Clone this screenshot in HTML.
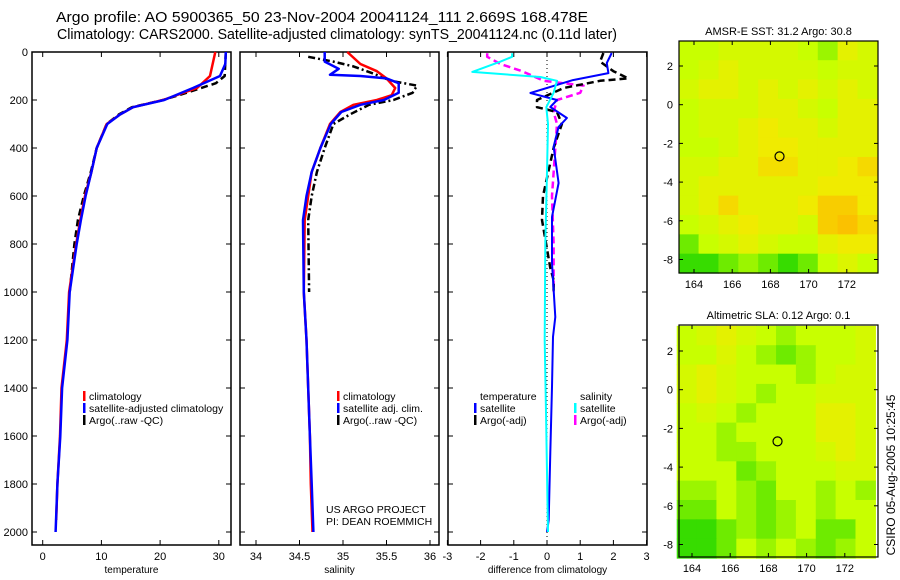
<!DOCTYPE html>
<html><head><meta charset="utf-8"><style>
body{margin:0;background:#fff}
svg{display:block;font-family:"Liberation Sans",sans-serif}
</style></head><body>
<svg id="c" width="900" height="580" viewBox="0 0 900 580">
<rect width="900" height="580" fill="#fff"/>
<text x="56" y="22" font-size="14.5" textLength="532" lengthAdjust="spacingAndGlyphs">Argo profile: AO 5900365_50 23-Nov-2004 20041124_111 2.669S 168.478E</text>
<text x="57" y="39" font-size="14.5" textLength="560" lengthAdjust="spacingAndGlyphs">Climatology: CARS2000. Satellite-adjusted climatology: synTS_20041124.nc (0.11d later)</text>
<text transform="translate(895,475) rotate(-90)" text-anchor="middle" font-size="12">CSIRO 05-Aug-2005 10:25:45</text>
</svg>
<script>
// ---- temperature panel data ----
const tClimD=[0,100,150,200,230,260,300,400,500,600,700,800,1000,1200,1400,1600,1800,1950];
const tClimV=[29.4,28.5,26.3,20.5,15.4,13.2,10.9,9.2,8.3,7.2,6.4,5.7,4.5,4.1,3.2,2.95,2.5,2.3];
const tSatD=[0,50,100,150,200,230,260,300,400,500,600,700,800,1000,1200,1400,1600,1800,2000];
const tSatV=[31.2,31.1,30.2,25.6,20.7,15.4,13.2,11.0,9.2,8.3,7.3,6.5,5.8,4.6,4.2,3.3,3.0,2.5,2.2];
const tArgD=[0,100,130,170,200,230,260,300,400,500,600,700,800,1000];
const tArgV=[31.2,31.0,29.5,24.5,20.5,15.2,13.0,10.9,9.2,8.2,7.0,6.0,5.4,4.6];
// ---- salinity panel data ----
const sClimD=[0,50,80,110,150,180,200,220,250,300,400,500,600,700,1000,1200,1400,1600,1800,2000];
const sClimV=[35.05,35.2,35.39,35.5,35.6,35.56,35.39,35.12,34.97,34.85,34.74,34.64,34.6,34.56,34.55,34.58,34.6,34.62,34.63,34.65];
const sSatD=[0,40,70,95,100,110,130,170,200,220,250,300,400,500,600,700,1000,1200,1400,1600,1800,2000];
const sSatV=[34.79,34.79,34.95,34.85,35.2,35.5,35.64,35.64,35.47,35.2,34.98,34.86,34.74,34.64,34.58,34.54,34.55,34.58,34.6,34.62,34.64,34.66];
const sArgD=[20,40,60,90,120,140,170,200,220,260,300,400,500,600,700,1000];
const sArgV=[34.6,34.89,35.12,35.35,35.55,35.85,35.8,35.58,35.3,35.08,34.89,34.79,34.7,34.64,34.6,34.61];
// ---- difference panel data ----
const dTSatD=[4,46,88,117,171,200,229,275,312,395,546,687,880,1104,1187,1395,1670,1950,2000];
const dTSatV=[1.95,1.8,1.85,0.78,-0.5,0.3,0.1,0.6,0.35,0.2,0.35,0.15,0.15,0.25,0.18,0.15,0.1,0.05,0];
const dTArgD=[4,40,80,110,120,150,200,230,250,300,400,600,700,900,950,1000];
const dTArgV=[1.7,1.6,2.0,2.45,1.6,0.5,-0.3,-0.3,0.3,0.45,0.2,-0.12,-0.15,0.1,0.2,0.2];
const dSArgD=[5,20,50,80,120,140,170,200,250,300,400,600,800,1000];
const dSArgV=[-1.8,-1.8,-1.4,-0.75,-0.1,1.1,1.0,0.3,0.2,0.3,0.25,0.15,0.2,0.2];
const dSSatD=[5,20,40,83,104,120,170,230,300,500,800,1200,1500,2000];
const dSSatV=[-1.05,-1.05,-1.4,-2.25,-0.2,0.3,0.2,-0.02,0.03,0.0,-0.05,-0.07,-0.03,0.03];
const depthTicks=[0,200,400,600,800,1000,1200,1400,1600,1800,2000];
const tTicks=[0,10,20,30], sTicks=[34,34.5,35,35.5,36], dTicks=[-3,-2,-1,0,1,2,3];
// ---- map data (rows north->south, cols west->east), colour index 0 green .. 4 orange ----
const sstGrid=[
[2,2,2.3,2.3,2.3,2.3,2,1.5,2.7,2.3],[2,2.3,2.7,2.3,2.3,2.3,2.3,2,2.3,2.3],[2.3,2.7,2.7,2.3,2.7,2.3,2.7,2.3,2.7,2.3],
[2,2.3,2.3,2.3,2.7,2.7,2.3,2,2.7,2.7],[2,2.3,2.3,2.7,3,2.7,2.7,2.3,2.7,2.7],[2,2,2.3,2.7,3,3,2.7,2.7,2.7,2.7],
[2.3,2.3,2.7,2.7,3.2,3.2,2.7,2.7,3,3.3],[2.3,2.7,2.7,2.7,2.7,2.7,2.7,3,3,3],[2.3,2.7,3.3,2.7,2.7,2.7,3,3.5,3.5,3],
[2,2.3,2.7,3,2.7,2.7,2.3,3.5,3.7,3.3],[1,2,2.3,2.7,2.3,2,2,2.7,3,3],[0.5,0.5,1,1.5,1,0.5,1,2,2.5,2]];
const slaGrid=[
[2,2.3,2.7,2.3,2,1.5,2,2,2,2.3],[2,2,2.5,2,1.5,1,1.5,2,2,2.3],[2.3,2.7,2.3,2,2,2,1.5,2,2.3,2.3],
[2.3,2.7,2.3,2,1.5,2,2,2.3,2.3,2.3],[2,2.3,2,1.5,2,2,2,2.7,2.7,2.3],[2,2,1.5,2,2,2,2,2.7,2.7,2.3],
[2,2,1.5,1.5,2,2,2,2.3,2.7,2.3],[2,2,2,1,1.5,2,2,2,2.3,2.3],[1.5,1.5,2,1.5,1,2,2,1.5,2,1.5],
[1,1,2,1.5,1,1.5,2,1.5,2,2],[0.5,0.5,1,1.5,1,1.5,2,1,1,2],[0.5,0.5,1,2,1.5,2,1.5,1,1.5,2]];
const lonTicks=[164,166,168,170,172], latTicks=[2,0,-2,-4,-6,-8];
const argoLon=168.478, argoLat=-2.669;

const NS='http://www.w3.org/2000/svg';
const svg=document.getElementById('c');
function mk(tag,attrs,parent){const e=document.createElementNS(NS,tag);for(const k in attrs)e.setAttribute(k,attrs[k]);(parent||svg).appendChild(e);return e;}
const Y=d=>52+d*0.24;
function panel(name,x0,x1,xs,ticks,fmt,xlabel,leftLabels){
  const g=mk('g',{});
  
  
  mk('rect',{x:x0,y:52,width:x1-x0,height:493,fill:'none',stroke:'#000','stroke-width':1.5},g);
  depthTicks.forEach(d=>{
    mk('line',{x1:x0,x2:x0+5,y1:Y(d),y2:Y(d),stroke:'#000'},g);
    mk('line',{x1:x1-5,x2:x1,y1:Y(d),y2:Y(d),stroke:'#000'},g);
    if(leftLabels){const t=mk('text',{x:x0-4,y:Y(d)+4,'font-size':11,'text-anchor':'end'},g);t.textContent=d;
      
      }
  });
  ticks.forEach(v=>{
    const x=xs(v);
    mk('line',{x1:x,x2:x,y1:545,y2:540,stroke:'#000'},g);
    mk('line',{x1:x,x2:x,y1:52,y2:57,stroke:'#000'},g);
    const t=mk('text',{x:x,y:560,'font-size':11,'text-anchor':'middle'},g);t.textContent=fmt(v);
    
    
  });
  const l=mk('text',{x:(x0+x1)/2,y:573,'font-size':10,'text-anchor':'middle'},g);l.textContent=xlabel;
  
  
  return g;
}
function series(g,name,D,V,xs,color,dash,w){
  const p=D.map((d,i)=>xs(V[i]).toFixed(1)+','+Y(d).toFixed(1)).join(' ');
  const e=mk('polyline',{points:p,fill:'none',stroke:color,'stroke-width':w||2.5,'stroke-dasharray':dash||'none','stroke-linejoin':'round'},g);
  
  
}
function legend(g,x,y,items){
  items.forEach((it,i)=>{
    const yy=y+i*12;
    if(it.c){const m=mk('rect',{x:x,y:yy-9,width:2.5,height:10,fill:it.c},g);
      
      }
    const t=mk('text',{x:x+6,y:yy,'font-size':10.5},g);t.textContent=it.t;
    
    
  });
}
// temperature
const xT=v=>42.7+v*5.87;
let g=panel('temperature-panel',32,231,xT,tTicks,v=>v,'temperature',true);
series(g,'argo-temperature-line',tArgD,tArgV,xT,'#000','7,4');
series(g,'climatology-temperature-line',tClimD,tClimV,xT,'#f00');
series(g,'satellite-temperature-line',tSatD,tSatV,xT,'#00f');
legend(g,83,400,[{c:'#f00',t:'climatology'},{c:'#00f',t:'satellite-adjusted climatology'},{c:'#000',t:'Argo(..raw -QC)'}]);
// salinity
const xS=v=>256+(v-34)*87;
g=panel('salinity-panel',240,439,xS,sTicks,v=>v,'salinity',false);
series(g,'argo-salinity-line',sArgD,sArgV,xS,'#000','7,3,2,3');
series(g,'climatology-salinity-line',sClimD,sClimV,xS,'#f00');
series(g,'satellite-salinity-line',sSatD,sSatV,xS,'#00f');
legend(g,337,400,[{c:'#f00',t:'climatology'},{c:'#00f',t:'satellite adj. clim.'},{c:'#000',t:'Argo(..raw -QC)'}]);
legend(g,320,513,[{t:'US ARGO PROJECT'},{t:'PI: DEAN ROEMMICH'}]);
// difference
const xD=v=>547+v*33.2;
g=panel('difference-panel',448,647,xD,dTicks,v=>v,'difference from climatology',false);
mk('line',{x1:xD(0),x2:xD(0),y1:52,y2:545,stroke:'#000','stroke-dasharray':'1,3'},g);
series(g,'salinity-argo-diff-line',dSArgD,dSArgV,xD,'#f0f','7,4');
series(g,'temperature-argo-diff-line',dTArgD,dTArgV,xD,'#000','7,4');
series(g,'temperature-satellite-diff-line',dTSatD,dTSatV,xD,'#00f',null,2);
series(g,'salinity-satellite-diff-line',dSSatD,dSSatV,xD,'#0ff',null,2);
legend(g,474,400,[{t:'temperature'},{c:'#00f',t:'satellite'},{c:'#000',t:'Argo(-adj)'}]);
legend(g,574,400,[{t:'salinity'},{c:'#0ff',t:'satellite'},{c:'#f0f',t:'Argo(-adj)'}]);
// maps
const stops=[[0,205,0],[110,235,0],[200,255,0],[240,235,0],[255,175,0]];
function col(v){const i=Math.min(3,Math.floor(v)),f=v-i,a=stops[i],b=stops[i+1];
  return 'rgb('+a.map((c,k)=>Math.round(c+(b[k]-c)*f)).join(',')+')';}
function map(name,grid,top,lonX0,latY0,title){
  const x0=679,x1=878,y1=top+232;
  const g=mk('g',{});
  
  
  const lx=lon=>lonX0+(lon-164)*19.1, ly=lat=>latY0-(lat-2)*19.35;
  const lonW=(173.6-163.2)/grid[0].length, latH=(3.3+8.7)/grid.length;
  grid.forEach((row,r)=>row.forEach((v,c)=>{
    const xa=lx(163.2+c*lonW), ya=ly(3.3-r*latH);
    const e=mk('rect',{x:xa,y:ya,width:lonW*19.1+0.6,height:latH*19.35+0.6,fill:col(v)},g);
    
    
  }));
  mk('rect',{x:x0,y:top,width:x1-x0,height:232,fill:'none',stroke:'#000','stroke-width':1.2},g);
  lonTicks.forEach(l=>{const x=lx(l);mk('line',{x1:x,x2:x,y1:y1,y2:y1-4,stroke:'#000'},g);mk('line',{x1:x,x2:x,y1:top,y2:top+4,stroke:'#000'},g);
    const t=mk('text',{x:x,y:y1+15,'font-size':11,'text-anchor':'middle'},g);t.textContent=l;
    
    });
  latTicks.forEach(l=>{const y=ly(l);mk('line',{x1:x0,x2:x0+4,y1:y,y2:y,stroke:'#000'},g);mk('line',{x1:x1-4,x2:x1,y1:y,y2:y,stroke:'#000'},g);
    const t=mk('text',{x:x0-6,y:y+4,'font-size':11,'text-anchor':'end'},g);t.textContent=l;
    
    });
  const c=mk('circle',{cx:lx(argoLon),cy:ly(argoLat),r:4.5,fill:'none',stroke:'#000','stroke-width':1.2},g);
  
  
  const t=mk('text',{x:(x0+x1)/2,y:top-6,'font-size':11,'text-anchor':'middle'},g);t.textContent=title;
  
  
}
map('sst-map',sstGrid,41,694,66,'AMSR-E SST: 31.2 Argo: 30.8');
map('sla-map',slaGrid,325,692,351,'Altimetric SLA: 0.12 Argo: 0.1');
</script>
</body></html>
